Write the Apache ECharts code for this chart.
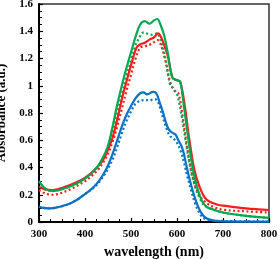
<!DOCTYPE html>
<html><head><meta charset="utf-8">
<script src="https://cdn.jsdelivr.net/npm/echarts@6/dist/echarts.min.js"></script>
<style>html,body{margin:0;padding:0;background:#fff}#c{width:280px;height:259px}</style>
</head><body><div id="c"></div>
<script>
const xTicks = [300, 400, 500, 600, 700, 800];
const yTicks = [0, 0.2, 0.4, 0.6, 0.8, 1, 1.2, 1.4, 1.6];

const greenSolidX = [300,310,320,330,340,350,360,370,380,390,400,410,420,430,440,450,460,470,480,490,500,510,520,530,540,550,557,565,572,580,590,600,607,615,625,635,645,655,665,680,700,750,800];
const greenSolidY = [0.30,0.255,0.233,0.228,0.232,0.24,0.252,0.265,0.28,0.298,0.32,0.345,0.38,0.42,0.48,0.56,0.70,0.86,1.00,1.13,1.245,1.36,1.45,1.475,1.455,1.48,1.49,1.44,1.37,1.24,1.06,1.04,1.03,0.85,0.60,0.38,0.24,0.15,0.11,0.09,0.07,0.045,0.03];

const greenDotX = [300,310,320,330,340,350,360,370,380,390,400,410,420,430,440,450,460,470,480,490,500,510,516,527,545,556,565,575,585,592,600,610,620,630,640,650,660,680,700,750,800];
const greenDotY = [0.30,0.255,0.233,0.228,0.232,0.24,0.252,0.265,0.28,0.298,0.32,0.345,0.375,0.415,0.47,0.54,0.66,0.80,0.94,1.07,1.19,1.30,1.34,1.39,1.375,1.385,1.33,1.20,1.005,0.98,0.94,0.78,0.57,0.38,0.25,0.17,0.12,0.09,0.07,0.045,0.03];

const redSolidX = [300,310,320,330,340,350,360,370,380,390,400,410,420,430,440,450,460,470,480,490,500,512,520,530,541,550,559,565,572,580,590,600,607,617,627,638,650,660,670,690,700,750,800];
const redSolidY = [0.26,0.243,0.236,0.235,0.24,0.25,0.262,0.275,0.29,0.305,0.325,0.35,0.38,0.415,0.46,0.53,0.62,0.75,0.90,1.03,1.15,1.28,1.305,1.315,1.34,1.355,1.385,1.36,1.30,1.22,1.06,1.04,1.03,0.85,0.60,0.38,0.25,0.18,0.15,0.125,0.12,0.10,0.088];

const redDotX = [300,310,320,330,340,350,360,370,380,390,400,410,420,430,440,450,460,470,480,490,500,510,520,530,540,550,558,565,575,585,595,603,612,622,632,645,660,680,700,750,800];
const redDotY = [0.235,0.215,0.203,0.2,0.205,0.215,0.228,0.243,0.26,0.28,0.30,0.325,0.355,0.39,0.44,0.50,0.59,0.70,0.83,0.96,1.08,1.20,1.28,1.29,1.30,1.32,1.335,1.30,1.18,1.03,0.96,0.945,0.78,0.55,0.36,0.22,0.15,0.11,0.09,0.078,0.07];

const blueSolidX = [300,310,320,330,340,350,360,370,380,390,400,410,420,430,440,450,460,470,480,490,500,510,520,527,535,548,555,563,570,575,582,590,597,603,610,615,620,627,635,645,655,665,680,700,800];
const blueSolidY = [0.112,0.104,0.10,0.102,0.108,0.116,0.126,0.14,0.158,0.18,0.205,0.23,0.26,0.30,0.35,0.415,0.50,0.60,0.70,0.785,0.85,0.91,0.945,0.952,0.937,0.955,0.945,0.87,0.80,0.74,0.68,0.655,0.64,0.60,0.555,0.50,0.42,0.32,0.22,0.12,0.055,0.025,0.01,0.005,0.003];

const blueDotX = [300,310,320,330,340,350,360,370,380,390,400,410,420,430,440,450,460,470,480,490,500,510,520,530,540,550,556,563,570,578,585,592,600,608,615,622,630,640,650,660,680,800];
const blueDotY = [0.112,0.104,0.10,0.102,0.108,0.116,0.126,0.14,0.158,0.18,0.205,0.228,0.255,0.29,0.335,0.39,0.46,0.55,0.65,0.74,0.81,0.87,0.89,0.895,0.893,0.90,0.895,0.84,0.76,0.68,0.63,0.615,0.58,0.52,0.44,0.34,0.24,0.13,0.06,0.025,0.01,0.003];

const GREEN = '#00A84F', RED = '#FF1A1A', BLUE = '#0A72C6';
function zip(xs, ys){ return xs.map((x,i)=>[x, ys[i]]); }
function mk(xs, ys, color, dotted){
  return {type:'line', data: zip(xs, ys), showSymbol:false, smooth:0.35, z: dotted?2:3,
    lineStyle:{color, width: 2.2, type: dotted?[2,2.5]:'solid'}};
}
const font = '"Liberation Serif", "Times New Roman", serif';
const chart = echarts.init(document.getElementById('c'), null, {renderer:'canvas'});
chart.setOption({
  animation:false,
  grid:{left:39, right:11, top:4, bottom:37, show:true, borderColor:'#333', borderWidth:1.5,
    containLabel:false, outerBoundsMode:'none'},
  xAxis:{type:'value', min:xTicks[0], max:xTicks[xTicks.length-1], interval:100,
    name:'wavelength (nm)', nameLocation:'middle', nameGap:17,
    nameTextStyle:{fontFamily:font, fontWeight:'bold', fontSize:14, color:'#000'},
    axisLine:{lineStyle:{color:'#000', width:2}},
    axisTick:{inside:true, length:4, lineStyle:{color:'#000', width:1.2}},
    minorTick:{show:true, splitNumber:4, length:3, lineStyle:{color:'#000', width:1}},
    splitLine:{show:false},
    axisLabel:{fontFamily:font, fontWeight:'bold', fontSize:11, color:'#000', margin:7}},
  yAxis:{type:'value', min:yTicks[0], max:yTicks[yTicks.length-1], interval:0.2,
    name:'Absorbance (a.u.)', nameLocation:'middle', nameGap:31,
    nameTextStyle:{fontFamily:font, fontWeight:'bold', fontSize:13, color:'#000'},
    axisLine:{show:true, lineStyle:{color:'#000', width:2}},
    axisTick:{show:true, inside:true, length:4, lineStyle:{color:'#000', width:1.2}},
    minorTick:{show:true, splitNumber:4, length:3, lineStyle:{color:'#000', width:1}},
    splitLine:{show:false},
    axisLabel:{fontFamily:font, fontWeight:'bold', fontSize:11, color:'#000', margin:6,
      formatter: v => String(Math.round(v*10)/10)}},
  series:[
    mk(blueDotX, blueDotY, BLUE, true),
    mk(blueSolidX, blueSolidY, BLUE, false),
    mk(redDotX, redDotY, RED, true),
    mk(greenDotX, greenDotY, GREEN, true),
    mk(redSolidX, redSolidY, RED, false),
    mk(greenSolidX, greenSolidY, GREEN, false)
  ]
});
</script></body></html>
